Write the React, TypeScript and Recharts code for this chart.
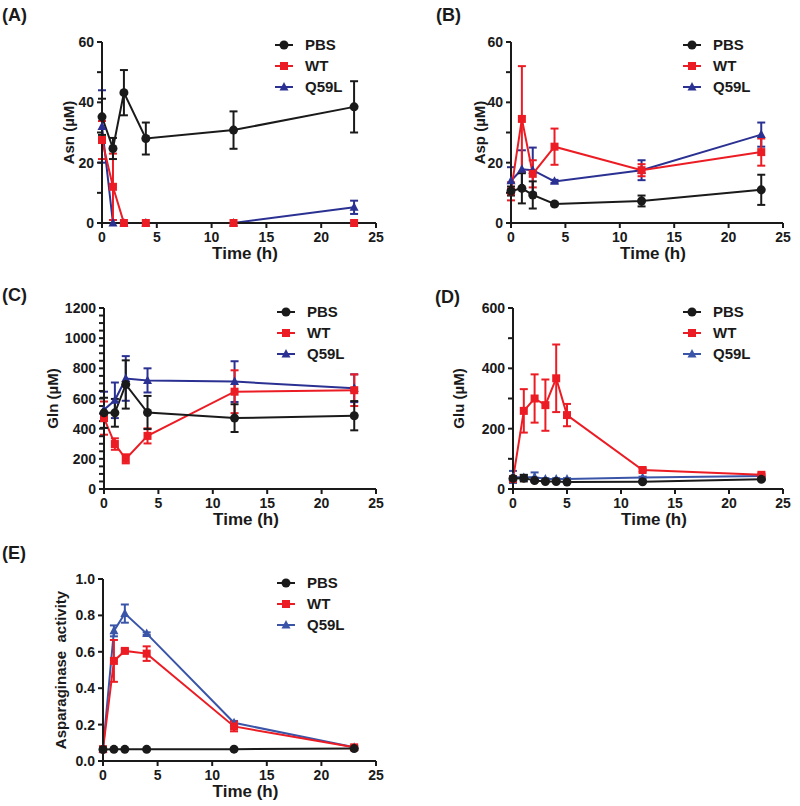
import React from "react";
import { LineChart, Line, XAxis, YAxis, ErrorBar } from "recharts";

const FONT = '"Liberation Sans", Arial, Helvetica, sans-serif';
const BLACK = "#1a1a1a";
const RED = "#ec1c24";
const NAVY = "#2b3192";
const BLUE = "#3a55a8";

// sampling times (h)
const times = [0, 1, 2, 4, 12, 23];
const timesGlu = [0, 1, 2, 3, 4, 5, 12, 23];
const xTicks = [0, 5, 10, 15, 20, 25];

// (A) Asn
const asnPBS = [35.2, 24.7, 43.2, 28, 30.8, 38.5];
const asnPBSErr = [6, 3.5, 7.5, 5.3, 6.2, 8.5];
const asnWT = [27.5, 12, 0, 0, 0, 0];
const asnWTErr = [6.3, 11, 0, 0, 0, 0];
const asnQ59L = [32, 0, 0, 0, 0, 5.2];
const asnQ59LErr = [12, 0, 0, 0, 0, 2.2];

// (B) Asp
const aspPBS = [10.6, 11.5, 9.3, 6.3, 7.3, 11];
const aspPBSErr = [1.5, 5, 4.5, 0.5, 1.8, 5];
const aspWT = [10.5, 34.5, 16.3, 25.3, 17.5, 23.5];
const aspWTErr = [3, 17.5, 4.5, 6, 2, 4.5];
const aspQ59L = [14, 17.8, 17.5, 13.8, 17.5, 29.3];
const aspQ59LErr = [4.5, 6.3, 7.5, 0.5, 3.3, 4];

// (C) Gln
const glnPBS = [505, 505, 693, 507, 470, 486];
const glnPBSErr = [100, 92, 160, 110, 92, 97];
const glnWT = [470, 298, 200, 352, 645, 655];
const glnWTErr = [110, 38, 30, 50, 142, 105];
const glnQ59L = [525, 588, 733, 720, 712, 668];
const glnQ59LErr = [120, 118, 148, 80, 135, 92];

// (D) Glu
const gluPBS = [35, 36, 28, 25, 25, 23, 24, 32];
const gluPBSErr = [3, 11, 3, 2, 2, 2, 2, 3];
const gluWT = [33, 259, 300, 278, 367, 245, 63, 47];
const gluWTErr = [5, 72, 80, 85, 112, 37, 5, 4];
const gluQ59L = [40, 38, 40, 33, 33, 33, 38, 43];
const gluQ59LErr = [20, 8, 15, 3, 3, 3, 3, 3];

// (E) Asparaginase activity
const actPBS = [0.063, 0.064, 0.064, 0.064, 0.065, 0.068];
const actPBSErr = [0.003, 0.003, 0.003, 0.003, 0.003, 0.003];
const actWT = [0.065, 0.55, 0.605, 0.59, 0.19, 0.075];
const actWTErr = [0.005, 0.115, 0.01, 0.04, 0.027, 0.008];
const actQ59L = [0.065, 0.715, 0.81, 0.7, 0.21, 0.075];
const actQ59LErr = [0.005, 0.03, 0.05, 0.007, 0.01, 0.005];

const seriesNames = ["PBS", "WT", "Q59L"];

type Shape = "circle" | "square" | "triangle";

function Marker({ shape, cx, cy, color }: { shape: Shape; cx: number; cy: number; color: string }) {
  if (shape === "circle") return <circle cx={cx} cy={cy} r={4.5} fill={color} />;
  if (shape === "square") return <rect x={cx - 4} y={cy - 4} width={8} height={8} fill={color} />;
  return <path d={`M${cx},${cy - 5}L${cx + 4.5},${cy + 3.5}L${cx - 4.5},${cy + 3.5}Z`} fill={color} />;
}

const dotFor = (shape: Shape, color: string) => (props: any) => {
  const { cx, cy, index } = props;
  if (cx == null || cy == null) return <g key={`e-${index}`} />;
  return <Marker key={`m-${index}`} shape={shape} cx={cx} cy={cy} color={color} />;
};

function rows(t: number[], a: number[], ae: number[], b: number[], be: number[], c: number[], ce: number[]) {
  return t.map((x, i) => ({ t: x, pbs: a[i], pbsE: ae[i], wt: b[i], wtE: be[i], q: c[i], qE: ce[i] }));
}

type PanelCfg = {
  title: string;
  left: number;
  top: number;
  height: number;
  yw: number;
  mr: number;
  mt: number;
  xh: number;
  data: any[];
  domain: [number, number];
  ticks: number[];
  majors: number[];
  fmt: (v: number) => string;
  yLabel: string;
  yLabelOff: number;
  blue: string;
};

const panels: PanelCfg[] = [
  {
    title: "(A)", left: 0, top: 0, height: 265, yw: 102, mr: 24, mt: 42, xh: 42,
    data: rows(times, asnPBS, asnPBSErr, asnWT, asnWTErr, asnQ59L, asnQ59LErr),
    domain: [0, 60], ticks: [0, 10, 20, 30, 40, 50, 60], majors: [0, 20, 40, 60],
    fmt: (v) => `${v}`, yLabel: "Asn (µM)", yLabelOff: 34, blue: NAVY,
  },
  {
    title: "(B)", left: 400, top: 0, height: 265, yw: 111, mr: 17, mt: 42, xh: 42,
    data: rows(times, aspPBS, aspPBSErr, aspWT, aspWTErr, aspQ59L, aspQ59LErr),
    domain: [0, 60], ticks: [0, 10, 20, 30, 40, 50, 60], majors: [0, 20, 40, 60],
    fmt: (v) => `${v}`, yLabel: "Asp (µM)", yLabelOff: 32, blue: NAVY,
  },
  {
    title: "(C)", left: 0, top: 265, height: 265, yw: 104, mr: 24, mt: 43, xh: 41,
    data: rows(times, glnPBS, glnPBSErr, glnWT, glnWTErr, glnQ59L, glnQ59LErr),
    domain: [0, 1200],
    ticks: [0, 50, 100, 150, 200, 250, 300, 350, 400, 450, 500, 550, 600, 650, 700, 750, 800, 850, 900, 950, 1000, 1050, 1100, 1150, 1200],
    majors: [0, 200, 400, 600, 800, 1000, 1200],
    fmt: (v) => `${v}`, yLabel: "Gln (µM)", yLabelOff: 52, blue: NAVY,
  },
  {
    title: "(D)", left: 400, top: 265, height: 265, yw: 113, mr: 17, mt: 43, xh: 41,
    data: rows(timesGlu, gluPBS, gluPBSErr, gluWT, gluWTErr, gluQ59L, gluQ59LErr),
    domain: [0, 600], ticks: [0, 100, 200, 300, 400, 500, 600], majors: [0, 200, 400, 600],
    fmt: (v) => `${v}`, yLabel: "Glu (µM)", yLabelOff: 55, blue: BLUE,
  },
  {
    title: "(E)", left: 0, top: 530, height: 276, yw: 103, mr: 24, mt: 49, xh: 45,
    data: rows(times, actPBS, actPBSErr, actWT, actWTErr, actQ59L, actQ59LErr),
    domain: [0, 1], ticks: [0, 0.2, 0.4, 0.6, 0.8, 1], majors: [0, 0.2, 0.4, 0.6, 0.8, 1],
    fmt: (v) => v.toFixed(1), yLabel: "Asparaginase  activity", yLabelOff: 43, blue: BLUE,
  },
];

const tickText = { fontSize: 14, fontWeight: "bold" as const, fill: BLACK, fontFamily: FONT };
const axisStroke = { stroke: BLACK, strokeWidth: 2 };

function Panel({ p }: { p: PanelCfg }) {
  const axisY = p.height - p.xh;
  const plotMid = (p.yw + 400 - p.mr) / 2;
  const YTick = (props: any) => {
    const { x, y, payload } = props;
    if (!p.majors.some((m) => Math.abs(m - payload.value) < 1e-9)) return <g />;
    return (
      <text x={x} y={y} dy={5} textAnchor="end" {...tickText}>
        {p.fmt(payload.value)}
      </text>
    );
  };
  const yLabel = () => {
    const cx = p.yw - p.yLabelOff;
    const cy = (p.mt + axisY) / 2;
    return (
      <text
        x={cx}
        y={cy}
        transform={`rotate(-90 ${cx} ${cy})`}
        textAnchor="middle"
        dominantBaseline="central"
        fontSize={15}
        fontWeight="bold"
        fill={BLACK}
        fontFamily={FONT}
        style={{ whiteSpace: "pre" }}
      >
        {p.yLabel}
      </text>
    );
  };
  const xLabel = () => (
    <text x={plotMid + 6} y={axisY + 36} textAnchor="middle" fontSize={17} fontWeight="bold" fill={BLACK} fontFamily={FONT}>
      Time (h)
    </text>
  );
  return (
    <div style={{ position: "absolute", left: p.left, top: p.top }}>
      <LineChart width={400} height={p.height} data={p.data} margin={{ top: p.mt, right: p.mr, left: 0, bottom: 0 }}>
        <XAxis
          dataKey="t"
          type="number"
          domain={[0, 25]}
          ticks={xTicks}
          interval={0}
          height={p.xh}
          tickSize={5}
          tickMargin={4}
          axisLine={axisStroke}
          tickLine={axisStroke}
          tick={tickText}
          label={xLabel}
        />
        <YAxis
          type="number"
          domain={p.domain}
          ticks={p.ticks}
          interval={0}
          width={p.yw}
          tickSize={5}
          tickMargin={3}
          axisLine={axisStroke}
          tickLine={axisStroke}
          tick={YTick}
          label={yLabel}
        />
        <Line dataKey="q" stroke={p.blue} strokeWidth={2} dot={dotFor("triangle", p.blue)} isAnimationActive={false}>
          <ErrorBar dataKey="qE" direction="y" width={4} stroke={p.blue} strokeWidth={2} isAnimationActive={false} />
        </Line>
        <Line dataKey="wt" stroke={RED} strokeWidth={2} dot={dotFor("square", RED)} isAnimationActive={false}>
          <ErrorBar dataKey="wtE" direction="y" width={4} stroke={RED} strokeWidth={2} isAnimationActive={false} />
        </Line>
        <Line dataKey="pbs" stroke={BLACK} strokeWidth={2} dot={dotFor("circle", BLACK)} isAnimationActive={false}>
          <ErrorBar dataKey="pbsE" direction="y" width={4} stroke={BLACK} strokeWidth={2} isAnimationActive={false} />
        </Line>
      </LineChart>
    </div>
  );
}

const titlePos = [
  [2, 21],
  [436, 21],
  [2, 301],
  [435, 303],
  [2, 559],
];
const legendPos = [
  [275, 45],
  [683, 45],
  [277, 312],
  [683, 312],
  [277, 583],
];
const shapes: Shape[] = ["circle", "square", "triangle"];

export default function App() {
  return (
    <div style={{ position: "absolute", left: 0, top: 0, width: 800, height: 806, background: "#fff" }}>
      {panels.map((p) => (
        <Panel key={p.title} p={p} />
      ))}
      <svg width={800} height={806} style={{ position: "absolute", left: 0, top: 0, pointerEvents: "none" }}>
        {panels.map((p, i) => (
          <text key={p.title} x={titlePos[i][0]} y={titlePos[i][1]} fontSize={18} fontWeight="bold" fill={BLACK} fontFamily={FONT}>
            {p.title}
          </text>
        ))}
        {panels.map((p, i) => {
          const [lx, ly] = legendPos[i];
          const colors = [BLACK, RED, p.blue];
          return (
            <g key={`lg-${p.title}`}>
              {seriesNames.map((name, k) => {
                const y = ly + k * 21;
                return (
                  <g key={name}>
                    <line x1={lx} x2={lx + 18} y1={y} y2={y} stroke={colors[k]} strokeWidth={2} />
                    <Marker shape={shapes[k]} cx={lx + 9} cy={y} color={colors[k]} />
                    <text x={lx + 30} y={y + 5} fontSize={15} fontWeight="bold" fill={BLACK} fontFamily={FONT}>
                      {name}
                    </text>
                  </g>
                );
              })}
            </g>
          );
        })}
      </svg>
    </div>
  );
}
